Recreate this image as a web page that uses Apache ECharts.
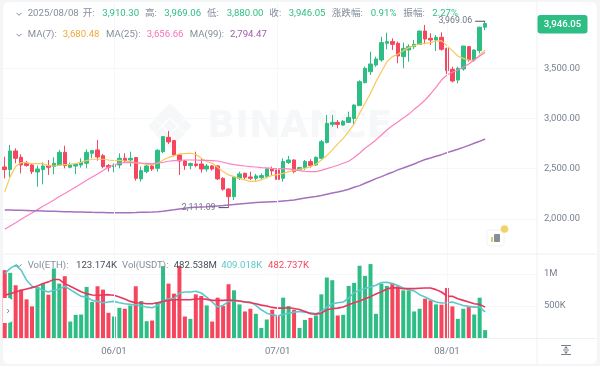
<!DOCTYPE html>
<html><head><meta charset="utf-8">
<style>html,body{margin:0;padding:0;background:#f4f5f6}#c{width:600px;height:366px}</style>
<script src="https://cdn.jsdelivr.net/npm/echarts@6/dist/echarts.min.js"></script></head>
<body><div id="c"></div>
<script>
const dates=["05/12","05/13","05/14","05/15","05/16","05/17","05/18","05/19","05/20","05/21","05/22","05/23","05/24","05/25","05/26","05/27","05/28","05/29","05/30","05/31",
"06/01","06/02","06/03","06/04","06/05","06/06","06/07","06/08","06/09","06/10","06/11","06/12","06/13","06/14","06/15","06/16","06/17","06/18","06/19","06/20","06/21","06/22","06/23","06/24","06/25","06/26","06/27","06/28","06/29","06/30",
"07/01","07/02","07/03","07/04","07/05","07/06","07/07","07/08","07/09","07/10","07/11","07/12","07/13","07/14","07/15","07/16","07/17","07/18","07/19","07/20","07/21","07/22","07/23","07/24","07/25","07/26","07/27","07/28","07/29","07/30","07/31",
"08/01","08/02","08/03","08/04","08/05","08/06","08/07","08/08"];
const tailSlots=["","","","","","","","",""];
const axisDates=["06/01","07/01","08/01"];
const opens=[2516,2490,2676,2613,2553,2536,2466,2490,2530,2520,2536,2662,2513,2526,2536,2553,2653,2686,2629,2530,2520,2536,2603,2586,2610,2397,2470,2526,2503,2669,2812,2779,2636,2576,2530,2546,2546,2496,2526,2526,2403,2297,2220,2403,2453,2417,2403,2410,2420,2493,2487,2403,2560,2586,2487,2510,2570,2536,2602,2761,2941,2961,2934,2961,3000,3128,3357,3466,3533,3583,3749,3766,3749,3616,3683,3716,3739,3872,3799,3782,3809,3699,3490,3383,3493,3716,3583,3676,3910.30];
const closes=[2490,2676,2603,2536,2530,2470,2496,2526,2513,2553,2662,2530,2536,2546,2563,2662,2679,2616,2520,2513,2536,2603,2580,2603,2403,2480,2526,2496,2683,2819,2766,2636,2576,2530,2550,2530,2496,2526,2496,2397,2294,2220,2413,2447,2413,2403,2427,2430,2497,2477,2393,2570,2586,2470,2510,2570,2530,2613,2768,2951,2961,2941,2971,3010,3134,3367,3500,3543,3593,3756,3766,3739,3623,3699,3716,3739,3872,3792,3782,3809,3689,3476,3373,3500,3722,3583,3682,3910,3946.05];
const lows=[2403,2413,2553,2453,2520,2446,2320,2343,2437,2443,2530,2503,2503,2446,2510,2503,2603,2580,2503,2470,2463,2503,2560,2520,2380,2370,2453,2476,2470,2653,2746,2620,2437,2487,2493,2513,2460,2470,2480,2387,2280,2111.09,2187,2387,2387,2387,2380,2393,2403,2437,2370,2370,2546,2453,2480,2487,2510,2526,2585,2751,2917,2901,2927,2957,2934,3128,3350,3433,3516,3566,3689,3683,3550,3500,3566,3693,3732,3739,3732,3672,3676,3443,3360,3350,3476,3566,3566,3649,3880];
const highs=[2619,2736,2702,2643,2576,2553,2530,2563,2586,2613,2686,2729,2560,2553,2603,2692,2686,2786,2646,2546,2553,2653,2653,2669,2615,2520,2536,2536,2693,2825,2875,2786,2643,2586,2560,2669,2603,2546,2536,2536,2413,2304,2427,2470,2460,2470,2447,2453,2503,2520,2503,2603,2626,2593,2516,2586,2593,2620,2785,3034,3034,2984,2984,3067,3140,3380,3516,3666,3616,3815,3855,3799,3766,3756,3739,3782,3872,3932,3849,3832,3859,3706,3516,3516,3722,3722,3689,3915,3969.06];
const volumes=[1060,1018,824,756,604,494,798,850,677,1087,850,966,257,362,367,798,562,808,756,394,336,472,457,509,808,577,262,273,562,1123,850,693,1123,336,299,682,656,509,257,630,499,840,745,525,415,457,378,157,289,441,352,630,499,441,157,283,315,352,682,945,903,352,362,814,861,1129,971,1155,378,850,814,861,808,745,745,415,457,614,588,525,520,782,494,299,457,483,367,630,123.174];
const ma7=[2270,2420,2520,2560,2560,2550,2550,2550,2530,2526,2533,2540,2543,2550,2563,2580,2593,2593,2593,2586,2580,2583,2576,2570,2560,2553,2543,2540,2553,2586,2610,2630,2646,2650,2653,2643,2603,2570,2553,2513,2470,2437,2420,2403,2387,2373,2373,2387,2413,2433,2440,2453,2470,2480,2493,2503,2520,2543,2586,2630,2686,2746,2802,2869,2945,3051,3151,3250,3367,3466,3566,3616,3639,3676,3706,3726,3742,3749,3756,3772,3776,3726,3676,3623,3599,3583,3576,3633,3680.48];
const ma25=[1895,1928,1961,1995,2028,2058,2091,2124,2154,2187,2221,2251,2284,2317,2350,2384,2417,2447,2480,2513,2536,2556,2560,2563,2560,2556,2553,2550,2556,2563,2573,2580,2583,2586,2586,2586,2583,2583,2580,2576,2563,2550,2540,2533,2526,2520,2516,2510,2507,2503,2500,2500,2497,2490,2480,2473,2470,2470,2483,2500,2516,2533,2553,2573,2610,2653,2703,2742,2786,2835,2885,2928,2965,3005,3041,3091,3134,3184,3244,3310,3383,3433,3460,3483,3510,3543,3583,3623,3656.66];
const ma99=[2088,2087,2085,2084,2082,2080,2079,2078,2076,2075,2073,2071,2070,2068,2067,2066,2064,2063,2062,2061,2060,2060,2060,2061,2062,2064,2066,2067,2069,2075,2083,2090,2098,2105,2111,2114,2117,2120,2124,2128,2132,2137,2142,2147,2152,2157,2161,2164,2167,2170,2173,2177,2181,2187,2197,2207,2214,2221,2231,2244,2257,2267,2280,2294,2314,2330,2354,2377,2400,2420,2443,2463,2487,2506,2526,2546,2570,2590,2606,2623,2639,2659,2676,2693,2712,2732,2752,2772,2794.47];
const volMaA=[1008,1087,1139,1060,903,808,782,745,719,745,766,808,756,703,651,640,588,572,551,562,572,551,535,525,520,499,483,472,509,577,614,614,703,719,719,730,703,640,562,483,509,572,588,577,562,562,509,441,388,362,346,367,388,404,415,404,394,378,415,483,535,551,562,625,709,745,772,798,824,866,871,850,819,782,756,735,677,640,598,562,546,551,562,535,509,494,483,483,409.018];
const volMaB=[667,693,719,745,766,787,814,850,877,913,913,850,808,766,724,693,672,667,672,677,667,640,609,572,551,546,535,535,551,572,588,598,598,598,598,609,614,604,588,588,588,593,588,577,562,551,535,514,499,478,467,467,472,462,446,415,378,373,388,441,457,467,483,520,551,577,614,646,688,724,766,787,782,772,772,772,777,782,782,756,719,656,651,614,588,562,535,525,482.737];
const priceTicks=[2000,2500,3000,3500];
const volTicks=[500,1000];
const UP='#2ebd85',DOWN='#f6465d',GRAY='#848e9c',SPLIT='#f6f7f8',EDGE='#eff0f2';
const CJK='Roboto,"Noto Sans CJK SC",sans-serif';
const cats=dates.concat(tailSlots);
const vlines=axisDates.map(d=>({xAxis:dates.indexOf(d)}));
const fmtPrice=v=>v.toLocaleString('en-US',{minimumFractionDigits:2,maximumFractionDigits:2});
function txt(x,y,s,fill,extra){return Object.assign({type:'text',x:x,y:y,z:50,silent:true,style:{text:s,fill:fill,font:'9.6px '+CJK,textVerticalAlign:'middle'}},extra||{});}
function chevron(x,y){return {type:'polyline',z:50,silent:true,shape:{points:[[x-2.5,y-1.2],[x,y+1.3],[x+2.5,y-1.2]]},style:{stroke:'#848e9c',lineWidth:1,fill:null}};}
function logoPoly(p){return {type:'polygon',z:1,silent:true,shape:{points:p},style:{fill:'#f6f7f8'}};}
const lx=170,ly=126;
const graphics=[
 {type:'rect',z:0,silent:true,shape:{x:3,y:2,width:594,height:362,r:6},style:{fill:'#fff'}},
 logoPoly([[lx,ly-7],[lx+7,ly],[lx,ly+7],[lx-7,ly]]),
 logoPoly([[lx-15,ly-7],[lx-8,ly],[lx-15,ly+7],[lx-22,ly]]),
 logoPoly([[lx+15,ly-7],[lx+22,ly],[lx+15,ly+7],[lx+8,ly]]),
 logoPoly([[lx,ly-23],[lx+15,ly-8],[lx+8,ly-1+0],[lx,ly-9],[lx-8,ly-1],[lx-15,ly-8]]),
 logoPoly([[lx,ly+23],[lx+15,ly+8],[lx+8,ly+1],[lx,ly+9],[lx-8,ly+1],[lx-15,ly+8]]),
 {type:'text',z:1,silent:true,x:207,y:127,style:{text:'BINANCE',fill:'#f6f7f8',font:'bold 37px "DejaVu Sans",sans-serif',textVerticalAlign:'middle'}},
 {type:'line',z:40,silent:true,shape:{x1:537,y1:2,x2:537,y2:364},style:{stroke:EDGE,lineWidth:1}},
 {type:'line',z:40,silent:true,shape:{x1:3,y1:254,x2:597,y2:254},style:{stroke:EDGE,lineWidth:1}},
 {type:'line',z:40,silent:true,shape:{x1:3,y1:338.5,x2:597,y2:338.5},style:{stroke:EDGE,lineWidth:1}},
 chevron(19,14),
 txt(27.7,13.5,'2025/08/08',GRAY),
 txt(82.7,13.5,'开:',GRAY),txt(102.3,13.5,'3,910.30',UP),
 txt(145,13.5,'高:',GRAY),txt(164.3,13.5,'3,969.06',UP),
 txt(207,13.5,'低:',GRAY),txt(226.7,13.5,'3,880.00',UP),
 txt(269.3,13.5,'收:',GRAY),txt(288.7,13.5,'3,946.05',UP),
 txt(331.7,13.5,'涨跌幅:',GRAY),txt(370.7,13.5,'0.91%',UP),
 txt(403.3,13.5,'振幅:',GRAY),txt(432.3,13.5,'2.27%',UP),
 chevron(19,35),
 txt(27.7,34.5,'MA(7):',GRAY),txt(62.7,34.5,'3,680.48','#f0a93a'),
 txt(106,34.5,'MA(25):',GRAY),txt(146.7,34.5,'3,656.66','#f771b8'),
 txt(189.7,34.5,'MA(99):',GRAY),txt(230,34.5,'2,794.47','#a05ea8'),
 chevron(19,265.5),
 txt(27.7,265.5,'Vol(ETH):',GRAY),txt(76,265.5,'123.174K','#474d57'),
 txt(122,265.5,'Vol(USDT):',GRAY),txt(173.7,265.5,'482.538M','#474d57'),
 txt(221.3,265.5,'409.018K','#5cc8cc'),txt(268,265.5,'482.737K','#f6465d'),
 {type:'rect',z:50,silent:true,shape:{x:537.5,y:15,width:50,height:18.5,r:3},style:{fill:UP}},
 txt(562.5,24.5,'3,946.05','#fff',{style:{text:'3,946.05',fill:'#fff',font:'500 9.6px Roboto,sans-serif',textAlign:'center',textVerticalAlign:'middle'}}),
 {type:'rect',z:50,silent:true,shape:{x:3,y:298,width:10,height:25,r:[0,5,5,0]},style:{fill:'#fff'}},
 {type:'polyline',z:51,silent:true,shape:{points:[[7.2,309],[9,311],[7.2,313]]},style:{stroke:'#848e9c',lineWidth:1,fill:null}},
 {type:'rect',z:50,silent:true,shape:{x:487,y:230,width:17,height:16,r:3},style:{fill:'#fff',stroke:'#f1f2f3',lineWidth:1}},
 {type:'rect',z:51,silent:true,shape:{x:494,y:234,width:6,height:8,r:1},style:{fill:'#848e9c'}},
 {type:'rect',z:51,silent:true,shape:{x:491,y:237,width:2,height:5},style:{fill:'#e8c468'}},
 {type:'circle',z:52,silent:true,shape:{cx:504.5,cy:229,r:3.8},style:{fill:'#f2d26b'}},
 {type:'line',z:50,silent:true,shape:{x1:561,y1:345.5,x2:571,y2:345.5},style:{stroke:'#76808f',lineWidth:1}},
 {type:'line',z:50,silent:true,shape:{x1:561,y1:354.5,x2:571,y2:354.5},style:{stroke:'#76808f',lineWidth:1}},
 {type:'line',z:50,silent:true,shape:{x1:563,y1:350,x2:569,y2:350},style:{stroke:'#76808f',lineWidth:1}},
 {type:'polygon',z:50,silent:true,shape:{points:[[566,346],[564,348.5],[568,348.5]]},style:{fill:'#76808f'}},
 {type:'polygon',z:50,silent:true,shape:{points:[[566,354],[564,351.5],[568,351.5]]},style:{fill:'#76808f'}}
];
const peakRich={t:{color:'#6f7783',fontSize:8.8,fontFamily:'Roboto,sans-serif',padding:[0,3,0,0]},l:{width:10,height:1,backgroundColor:'#474d57'}};
const option={
 animation:false,
 graphic:{elements:graphics},
 grid:[{left:2,right:63,top:3,height:251},{left:2,right:63,top:254,height:84}],
 xAxis:[
  {type:'category',gridIndex:0,data:cats,axisLine:{show:false},axisTick:{show:false},axisLabel:{show:false},splitLine:{show:false}},
  {type:'category',gridIndex:1,data:cats,axisLine:{show:false},axisTick:{show:false},splitLine:{show:false},
   axisLabel:{color:'#76808f',fontSize:9.6,fontFamily:'Roboto,sans-serif',margin:9,
    interval:(i,v)=>axisDates.includes(v)}}
 ],
 yAxis:[
  {type:'value',gridIndex:0,position:'right',min:1648.6,max:4151,axisLine:{show:false},
   axisTick:{show:false,customValues:priceTicks},
   axisLabel:{customValues:priceTicks,color:'#76808f',fontSize:9.4,fontFamily:'Roboto,sans-serif',margin:7,formatter:fmtPrice},
   splitLine:{lineStyle:{color:SPLIT}}},
  {type:'value',gridIndex:1,position:'right',min:0,max:1312.5,axisLine:{show:false},
   axisTick:{show:false,customValues:volTicks},
   axisLabel:{customValues:volTicks,color:'#76808f',fontSize:9.4,fontFamily:'Roboto,sans-serif',margin:7,formatter:v=>v>=1000?(v/1000)+'M':v+'K'},
   splitLine:{lineStyle:{color:SPLIT}}}
 ],
 series:[
  {type:'candlestick',xAxisIndex:0,yAxisIndex:0,barWidth:4,
   data:opens.map((o,i)=>[o,closes[i],lows[i],highs[i]]),
   itemStyle:{color:UP,color0:DOWN,borderColor:UP,borderColor0:DOWN,borderWidth:1},
   markLine:{silent:true,symbol:'none',label:{show:false},lineStyle:{color:SPLIT,type:'solid',width:1},data:vlines},
   markPoint:{silent:true,symbol:'circle',symbolSize:0,
    label:{show:true,position:'left',distance:0,rich:peakRich,formatter:p=>'{t|'+fmtPrice(p.value)+'}{l|}'},
    data:[{coord:[dates.indexOf('08/08'),Math.max(...highs)],value:Math.max(...highs)},
          {coord:[dates.indexOf('06/22'),Math.min(...lows)],value:Math.min(...lows)}]}},
  {type:'line',xAxisIndex:0,yAxisIndex:0,data:ma7,showSymbol:false,lineStyle:{color:'#f7c95c',width:1.2}},
  {type:'line',xAxisIndex:0,yAxisIndex:0,data:ma25,showSymbol:false,lineStyle:{color:'#fb82c0',width:1.2}},
  {type:'line',xAxisIndex:0,yAxisIndex:0,data:ma99,showSymbol:false,lineStyle:{color:'#a670be',width:1.5}},
  {type:'bar',xAxisIndex:1,yAxisIndex:1,barWidth:4,
   data:volumes.map((v,i)=>({value:v,itemStyle:{color:closes[i]>=opens[i]?UP:DOWN}})),
   markLine:{silent:true,symbol:'none',label:{show:false},lineStyle:{color:SPLIT,type:'solid',width:1},data:vlines}},
  {type:'line',xAxisIndex:1,yAxisIndex:1,data:volMaA,showSymbol:false,lineStyle:{color:'#5cc8cc',width:1.6}},
  {type:'line',xAxisIndex:1,yAxisIndex:1,data:volMaB,showSymbol:false,lineStyle:{color:'#e8375f',width:1.6}}
 ]
};
echarts.init(document.getElementById('c'),null,{renderer:'canvas'}).setOption(option);
</script></body></html>
